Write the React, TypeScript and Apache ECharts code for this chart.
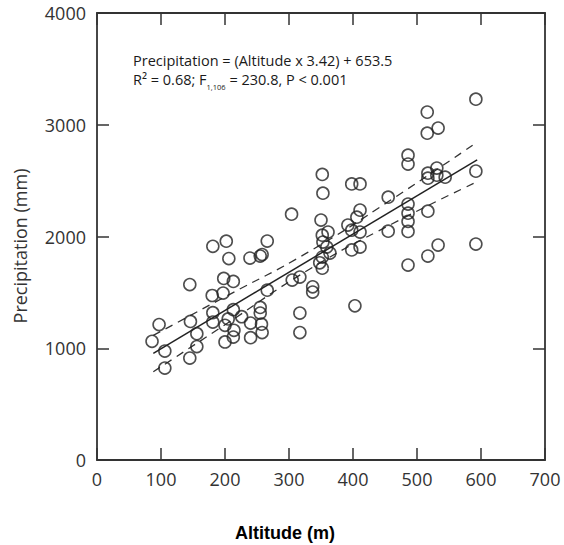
import React, { useEffect, useRef } from "react";
import * as echarts from "echarts";

// Altitude (m), Precipitation (mm)
const stations: number[][] = [
  [86, 1062], [97, 1212], [106, 975], [106, 823], [145, 1570], [146, 1240], [156, 1130], [156, 1015], [145, 912],
  [181, 1912], [202, 1958], [206, 1803], [198, 1625], [213, 1598], [180, 1472], [197, 1494], [181, 1318],
  [213, 1345], [205, 1262], [226, 1282], [181, 1234], [200, 1205], [214, 1160], [213, 1100], [200, 1056],
  [239, 1807], [255, 1825], [258, 1838], [266, 1959], [266, 1520], [255, 1365], [255, 1315], [257, 1215],
  [258, 1140], [240, 1225], [240, 1095],
  [304, 2200], [305, 1610], [317, 1637], [337, 1550], [337, 1503], [317, 1315], [317, 1140],
  [352, 2555], [353, 2388], [350, 2147], [361, 2040], [352, 2012], [353, 1950], [359, 1905], [364, 1852],
  [352, 1816], [348, 1765], [352, 1717],
  [392, 2102], [398, 2057], [411, 2040], [411, 2236], [406, 2173], [398, 1880], [411, 1905], [398, 2470],
  [411, 2470], [403, 1380],
  [455, 2352], [455, 2048],
  [486, 2728], [486, 2648], [486, 2290], [486, 2209], [486, 2135], [486, 2045], [486, 1744],
  [516, 3113], [516, 2925], [533, 2970], [517, 2567], [517, 2522], [531, 2612], [531, 2549], [544, 2531],
  [517, 2227], [517, 1825], [533, 1923],
  [592, 3229], [592, 2585], [592, 1932],
];

const fitLine: number[][] = [[88, 955], [594, 2685]];
const upperBand: number[][] = [[88, 1115], [200, 1460], [330, 1860], [460, 2330], [594, 2845]];
const lowerBand: number[][] = [[88, 790], [200, 1210], [330, 1700], [460, 2110], [594, 2490]];

const xTicks = { min: 0, max: 700, interval: 100 };
const yTicks = { min: 0, max: 4000, interval: 1000 };

const equationText = "Precipitation = (Altitude x 3.42) + 653.5";
const statsParts = ["R\u00B2 = 0.68; F", "1,106", " = 230.8, P < 0.001"];

export default function App() {
  const ref = useRef<HTMLDivElement>(null);
  useEffect(() => {
    if (!ref.current) return;
    const chart = echarts.init(ref.current, undefined, { renderer: "svg" });
    const axisColor = "#333";
    const labelStyle = {
      color: "#333", fontSize: 18, fontFamily: "Open Sans",
      formatter: (v: number) => String(v),
    };
    const line = { show: true, onZero: false, lineStyle: { color: axisColor, width: 1.8 } };
    const tick = { show: true, inside: true, length: 12, lineStyle: { color: axisColor, width: 1.5 } };
    chart.setOption({
      animation: false,
      backgroundColor: "#fff",
      grid: { left: 97, top: 13, width: 448, height: 447, containLabel: false },
      xAxis: [
        {
          type: "value", position: "bottom", ...xTicks,
          axisLine: line, axisTick: tick,
          axisLabel: { ...labelStyle, margin: 10 },
          splitLine: { show: false },
        },
        {
          type: "value", position: "top", ...xTicks,
          axisLine: line, axisTick: tick,
          axisLabel: { show: false },
          splitLine: { show: false },
        },
      ],
      yAxis: [
        {
          type: "value", position: "left", ...yTicks,
          axisLine: line, axisTick: tick,
          axisLabel: { ...labelStyle, margin: 11 },
          splitLine: { show: false },
        },
        {
          type: "value", position: "right", ...yTicks,
          axisLine: line, axisTick: tick,
          axisLabel: { show: false },
          splitLine: { show: false },
        },
      ],
      graphic: [
        {
          type: "text", left: 133, top: 53,
          style: { text: equationText, fill: "#1a1a1a", fontSize: 14.5, fontFamily: "Open Sans" },
        },
        {
          type: "text", left: 133, top: 72,
          style: {
            text: `{a|${statsParts[0]}}{s|${statsParts[1]}}{a|${statsParts[2]}}`,
            rich: {
              a: { fill: "#1a1a1a", fontSize: 14.5, fontFamily: "Open Sans", verticalAlign: "bottom", lineHeight: 19 },
              s: { fill: "#1a1a1a", fontSize: 7.5, fontFamily: "Open Sans", verticalAlign: "bottom", lineHeight: 19, padding: [0, 0, -4, 0] },
            },
          },
        },
        {
          type: "text", x: 20, y: 246, rotation: Math.PI / 2,
          style: {
            text: "Precipitation (mm)", fill: "#333", fontSize: 18, fontFamily: "Open Sans",
            align: "center", verticalAlign: "middle",
          },
        },
        {
          type: "text", x: 285, y: 533,
          style: {
            text: "Altitude (m)", fill: "#000", fontSize: 18, fontWeight: "bold", fontFamily: "Liberation Sans",
            align: "center", verticalAlign: "middle",
          },
        },
      ],
      series: [
        {
          type: "scatter", data: stations, symbol: "circle", symbolSize: 12,
          itemStyle: { color: "rgba(0,0,0,0)", borderColor: "#222", borderWidth: 1.6 },
          z: 3,
        },
        {
          type: "line", data: fitLine, symbol: "none",
          lineStyle: { color: "#222", width: 1.5 }, z: 2,
        },
        {
          type: "line", data: upperBand, symbol: "none", smooth: true,
          lineStyle: { color: "#333", width: 1.3, type: [8, 6] }, z: 2,
        },
        {
          type: "line", data: lowerBand, symbol: "none", smooth: true,
          lineStyle: { color: "#333", width: 1.3, type: [8, 6] }, z: 2,
        },
      ],
    });
    return () => chart.dispose();
  }, []);
  return <div ref={ref} style={{ position: "fixed", left: 0, top: 0, width: 564, height: 545 }} />;
}
